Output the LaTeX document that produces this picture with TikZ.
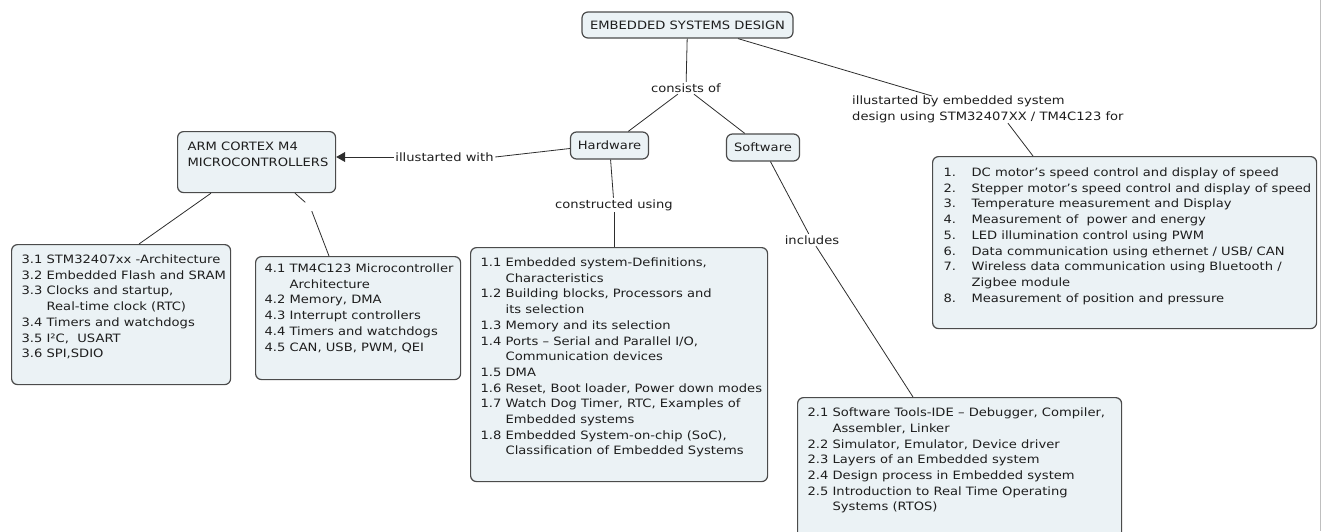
\documentclass[tikz,border=0pt]{standalone}
\usepackage{fontspec}
\setmainfont{DejaVu Sans}[FakeStretch=1.14]
\usetikzlibrary{arrows.meta}
\definecolor{boxfill}{RGB}{235,242,245}
\definecolor{boxline}{RGB}{75,75,75}
\definecolor{conline}{RGB}{45,45,45}
\definecolor{txtcol}{RGB}{30,30,30}
\newcommand{\ind}[1]{\hphantom{#1}}
\newcommand{\boxtext}[3]{\parbox[t][#2pt][t]{#1pt}{\begin{tabular}[t]{@{}l@{}}#3\end{tabular}}}
\begin{document}
\begin{tikzpicture}[x=1pt,y=-1pt,
  txt/.style={font=\fontsize{11.5}{15.7}\selectfont,text=txtcol},
  cbox/.style={txt,draw=boxline,fill=boxfill,line width=1.2pt,rounded corners=6pt,anchor=north west,inner xsep=10pt,inner ysep=8pt},
  small/.style={txt,draw=boxline,fill=boxfill,line width=1.2pt,rounded corners=6pt,inner sep=0pt},
  lbl/.style={txt,fill=white,inner sep=1.5pt},
  conn/.style={draw=conline,line width=0.8pt}]
\useasboundingbox (0,0) rectangle (1322,531);
\clip (0,0) rectangle (1322,531);
\draw[black!25,line width=1pt] (1320,0) -- (1320,531);

% main nodes
\node[small,minimum width=211pt,minimum height=26pt] (title) at (687.5,25) {EMBEDDED SYSTEMS DESIGN};
\node[small,minimum width=78pt,minimum height=27pt] (hw) at (609.5,145.5) {Hardware};
\node[small,minimum width=73pt,minimum height=27pt] (sw) at (763,147.5) {Software};
\node[cbox] (arm) at (177,131) {\boxtext{138}{45}{ARM CORTEX M4\\MICROCONTROLLERS}};

% labels
\node[lbl] (cons) at (686,88) {consists of};
\node[lbl] (with) at (444.5,157) {illustarted with};
\node[lbl] (cu) at (614,205) {constructed using};
\node[lbl] (inc) at (812,240) {includes};
\node[txt,anchor=north west,align=left,inner sep=0pt] (illus) at (852,96) {illustarted by embedded system\\design using STM32407XX / TM4C123 for};
\node[inner sep=0pt,minimum size=9pt] (gap) at (310,206.5) {};

% content boxes
\node[cbox] (b3) at (11,244) {\boxtext{199}{124}{%
3.1 STM32407xx -Architecture\\
3.2 Embedded Flash and SRAM\\
3.3 Clocks and startup,\\
\ind{3.3 }Real-time clock (RTC)\\
3.4 Timers and watchdogs\\
3.5 I²C, \ USART\\
3.6 SPI,SDIO}};

\node[cbox,inner xsep=9pt,inner ysep=5pt] (b4) at (255,256) {\boxtext{187}{113}{%
4.1 TM4C123 Microcontroller\\
\ind{4.1 }Architecture\\
4.2 Memory, DMA\\
4.3 Interrupt controllers\\
4.4 Timers and watchdogs\\
4.5 CAN, USB, PWM, QEI}};

\node[cbox] (b1) at (470,247) {\boxtext{277}{218}{%
1.1 Embedded system-Definitions,\\
\ind{1.1 }Characteristics\\
1.2 Building blocks, Processors and\\
\ind{1.2 }its selection\\
1.3 Memory and its selection\\
1.4 Ports – Serial and Parallel I/O,\\
\ind{1.4 }Communication devices\\
1.5 DMA\\
1.6 Reset, Boot loader, Power down modes\\
1.7 Watch Dog Timer, RTC, Examples of\\
\ind{1.7 }Embedded systems\\
1.8 Embedded System-on-chip (SoC),\\
\ind{1.8 }Classification of Embedded Systems}};

\node[cbox] (b2) at (797,397) {\boxtext{304}{134}{%
2.1 Software Tools-IDE – Debugger, Compiler,\\
\ind{2.1 }Assembler, Linker\\
2.2 Simulator, Emulator, Device driver\\
2.3 Layers of an Embedded system\\
2.4 Design process in Embedded system\\
2.5 Introduction to Real Time Operating\\
\ind{2.5 }Systems (RTOS)}};

\node[cbox,inner xsep=11pt,inner ysep=9pt] (ex) at (932,156) {\boxtext{362}{154}{%
\makebox[28pt][l]{1.}DC motor’s speed control and display of speed\\
\makebox[28pt][l]{2.}Stepper motor’s speed control and display of speed\\
\makebox[28pt][l]{3.}Temperature measurement and Display\\
\makebox[28pt][l]{4.}Measurement of \ power and energy\\
\makebox[28pt][l]{5.}LED illumination control using PWM\\
\makebox[28pt][l]{6.}Data communication using ethernet / USB/ CAN\\
\makebox[28pt][l]{7.}Wireless data communication using Bluetooth /\\
\makebox[28pt][l]{}Zigbee module\\
\makebox[28pt][l]{8.}Measurement of position and pressure}};

% connectors
\draw[conn] (title) -- (cons);
\draw[conn] (cons) -- (hw);
\draw[conn] (cons) -- (sw);
\draw[conn] ([xshift=50.5pt]title.south) -- ([xshift=80pt]illus.north west);
\draw[conn] ([xshift=156pt]illus.south west) -- ([xshift=101pt]ex.north west);
\draw[conn] ([yshift=-3pt]hw.west) -- (with.east);
\draw[conn,-{Triangle[length=9pt,width=10pt]}] (with.west) -- (arm.east |- with.west);
\draw[conn] ([xshift=34pt]arm.south west) -- ([xshift=128pt]b3.north west);
\draw[conn] ([xshift=118pt]arm.south west) -- (gap);
\draw[conn] (gap) -- ([xshift=74pt]b4.north west);
\draw[conn] (hw) -- (cu);
\draw[conn] (cu) -- ([xshift=144pt]b1.north west);
\draw[conn] (sw) -- (inc);
\draw[conn] (inc) -- ([xshift=116pt]b2.north west);
\end{tikzpicture}
\end{document}
